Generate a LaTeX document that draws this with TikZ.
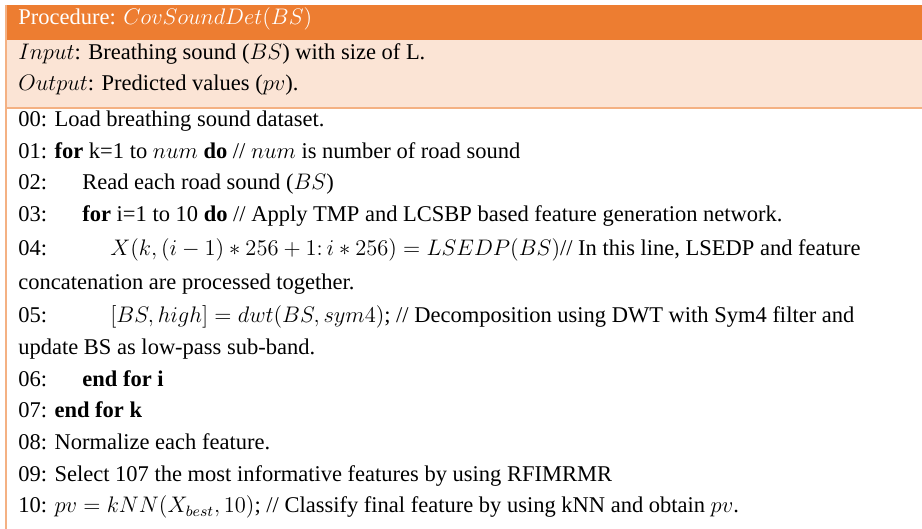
\documentclass[tikz,border=0pt]{standalone}
\usepackage{fontspec}
\setmainfont{Liberation Serif}
\definecolor{barorange}{HTML}{ED7D31}
\definecolor{peach}{HTML}{FBE4D5}
\definecolor{rule}{HTML}{F4B183}
\tikzset{
  txt/.style={anchor=base west, inner sep=0pt, font=\fontsize{12}{14}\selectfont},
  hdrtxt/.style={txt, text=white},
}
\begin{document}
\begin{tikzpicture}[x=0.53333pt, y=-0.53333pt]
  \useasboundingbox[fill=white] (0,0) rectangle (922,529);
  % header band and input/output band
  \fill[barorange] (6,5) rectangle (922,40);
  \fill[peach] (6,40) rectangle (922,108);
  \draw[rule, line width=0.65pt] (6,108) -- (922,108);
  \draw[rule, line width=0.65pt] (6,5) -- (6,529);

  \node[hdrtxt] (title) at (18,25) {Procedure: $CovSoundDet(BS)$};
  \node[txt] (input) at (18,60) {$Input$: Breathing sound ($BS$) with size of L.};
  \node[txt] (output) at (18,91) {$Output$: Predicted values ($pv$).};

  % algorithm body
  \node[txt] (l00) at (18,127) {00: Load breathing sound dataset.};
  \node[txt] (l01) at (18,159) {01: \textbf{for} k=1 to $num$ \textbf{do} // $num$ is number of road sound};
  \node[txt] (n02) at (18,190) {02:};
  \node[txt] (l02) at (82,190) {Read each road sound ($BS$)};
  \node[txt] (n03) at (18,222) {03:};
  \node[txt] (l03) at (82,222) {\textbf{for} i=1 to 10 \textbf{do} // Apply TMP and LCSBP based feature generation network.};
  \node[txt] (n04) at (18,256) {04:};
  \node[txt] (l04) at (110,256) {$X(k,(i-1)\ast256+1\colon i\ast256)=LSEDP(BS)$// In this line, LSEDP and feature};
  \node[txt] (l04b) at (18,290) {concatenation are processed together.};
  \node[txt] (n05) at (18,323) {05:};
  \node[txt] (l05) at (110,323) {$[BS,high]=dwt(BS,sym4)$; // Decomposition using DWT with Sym4 filter and};
  \node[txt] (l05b) at (18,355) {update BS as low-pass sub-band.};
  \node[txt] (n06) at (18,387) {06:};
  \node[txt] (l06) at (82,387) {\textbf{end for i}};
  \node[txt] (l07) at (18,418) {07: \textbf{end for k}};
  \node[txt] (l08) at (18,450) {08: Normalize each feature.};
  \node[txt] (l09) at (18,482) {09: Select 107 the most informative features by using RFIMRMR};
  \node[txt] (l10) at (18,513) {10: $pv=kNN(X_{best},10)$; // Classify final feature by using kNN and obtain $pv$.};
\end{tikzpicture}
\end{document}
